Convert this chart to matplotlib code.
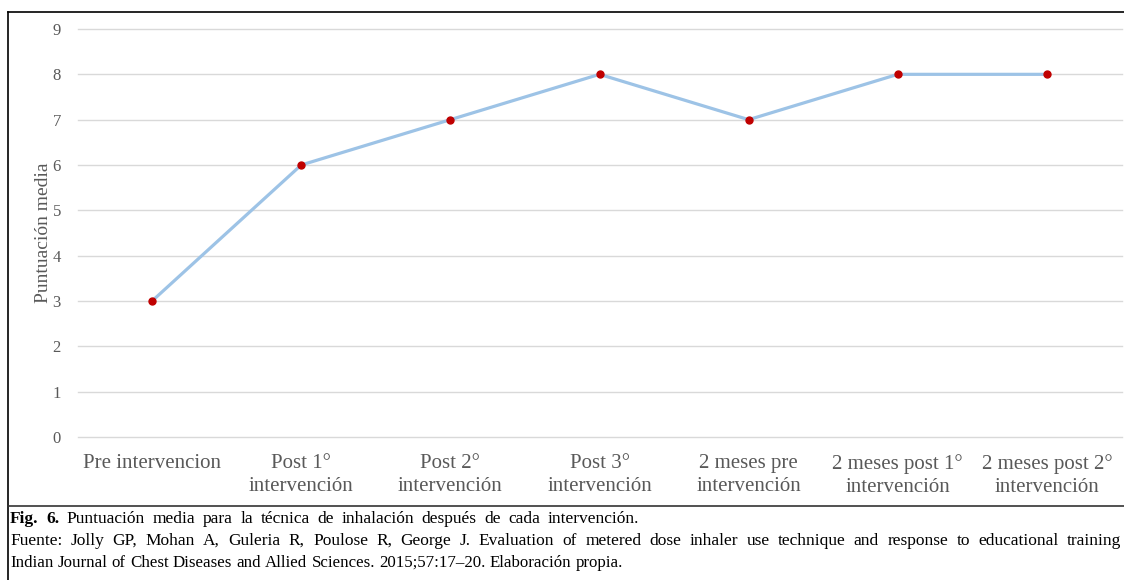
import matplotlib.pyplot as plt
from matplotlib.lines import Line2D

plt.rcParams['font.family'] = ['Liberation Serif', 'DejaVu Serif']

categorias = ['Pre intervencion', 'Post 1°\nintervención', 'Post 2°\nintervención',
              'Post 3°\nintervención', '2 meses pre\nintervención',
              '2 meses post 1°\nintervención', '2 meses post 2°\nintervención']
puntuacion = [3, 6, 7, 8, 7, 8, 8]
yticks = list(range(0, 10))

pie_1 = 'Puntuación media para la técnica de inhalación después de cada intervención.'
pie_2 = ('Fuente: Jolly GP, Mohan A, Guleria R, Poulose R, George J. Evaluation of metered dose '
         'inhaler use technique and response to educational training')
pie_3 = 'Indian Journal of Chest Diseases and Allied  Sciences. 2015;57:17–20.  Elaboración propia.'

gris = '#595959'
W, H = 1124, 580

fig = plt.figure(figsize=(11.24, 5.8), dpi=100)
ax = fig.add_axes([77.5 / W, 1 - 437 / H, 1044 / W, 408 / H])

x = list(range(len(categorias)))
ax.plot(x, puntuacion, color='#9DC3E6', lw=2.3, zorder=3,
        marker='o', ms=5, mfc='#C00000', mec='#C00000')

ax.set_xlim(-0.5, len(categorias) - 0.5)
ax.set_ylim(0, 9)
ax.set_yticks(yticks)
ax.set_xticks(x)
ax.set_xticklabels(categorias, fontsize=15, color=gris, linespacing=1.3)
ax.tick_params(axis='x', length=0, pad=12)
ax.tick_params(axis='y', length=0, pad=12, labelsize=12, labelcolor=gris)
ax.grid(axis='y', color='#D9D9D9', lw=1)
for gl in ax.get_ygridlines():
    gl.set_clip_on(False)
ax.set_axisbelow(True)
for s in ax.spines.values():
    s.set_visible(False)
ax.set_ylabel('Puntuación media', fontsize=14, color=gris, labelpad=0)

# marco de la figura
fig.add_artist(Line2D([8 / W, 1], [1 - 12 / H] * 2, color='black', lw=1.2))
fig.add_artist(Line2D([8 / W] * 2, [0, 1 - 12 / H], color='black', lw=1.2))
fig.add_artist(Line2D([8 / W, 1], [1 - 506 / H] * 2, color='#333333', lw=1.2))

# pie de figura
rend = fig.canvas.get_renderer()


def linea(palabras, x0, x1, y, fs=12.5):
    arts = []
    for txt, peso in palabras:
        arts.append(fig.text(x0 / W, 1 - y / H, txt, fontsize=fs, va='center',
                             fontweight=peso, color='black'))
    anchos = [a.get_window_extent(rend).width for a in arts]
    if x1 is None:
        hueco = fs * 0.25 * 100 / 72
    else:
        hueco = (x1 - x0 - sum(anchos)) / (len(arts) - 1)
    pos = x0
    for a, w in zip(arts, anchos):
        a.set_x(pos / W)
        pos += w + hueco


linea([('Fig.', 'bold'), ('6.', 'bold')] + [(p, 'normal') for p in pie_1.split()],
      10, 639, 519)
linea([(p, 'normal') for p in pie_2.split()], 10, 1121, 541)
linea([(p, 'normal') for p in pie_3.split()], 10, None, 563, fs=12.2)

fig.savefig('out.png', dpi=100)
